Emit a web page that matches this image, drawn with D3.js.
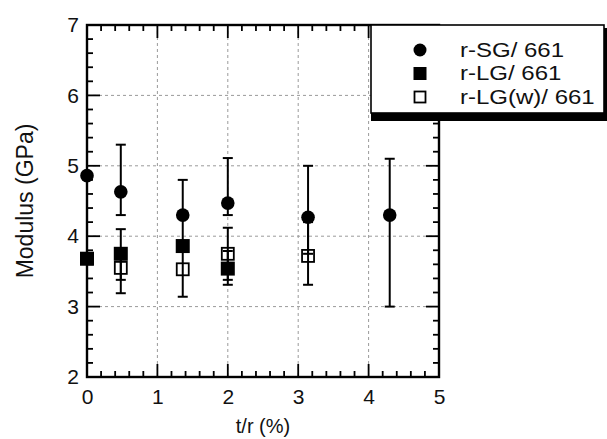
<!DOCTYPE html>
<html>
<head>
<meta charset="utf-8">
<script src="https://cdn.jsdelivr.net/npm/d3@7"></script>
<style>
  body { margin: 0; background: #fff; }
  text { font-family: "Liberation Sans", Arial, sans-serif; fill: #111; }
</style>
</head>
<body>
<div id="chart"></div>
<script>
// data
var sgX  = [0, 0.48, 1.36, 2.0, 3.14, 4.3];
var sgY  = [4.86, 4.63, 4.30, 4.47, 4.27, 4.30];
var sgLo = [null, 4.30, 3.85, 4.30, 3.75, 3.00];
var sgHi = [null, 5.30, 4.80, 5.11, 5.00, 5.10];

var lgX  = [0, 0.48, 1.36, 2.0];
var lgY  = [3.68, 3.75, 3.86, 3.54];
var lgLo = [null, 3.38, null, 3.31];
var lgHi = [null, 4.10, null, 3.79];

var lgwX  = [0.48, 1.36, 2.0, 3.14];
var lgwY  = [3.55, 3.53, 3.75, 3.72];
var lgwLo = [3.19, 3.14, 3.38, 3.31];
var lgwHi = [3.80, 3.92, 4.12, 4.20];

var legendLabels = ["r-SG/ 661", "r-LG/ 661", "r-LG(w)/ 661"];
var xTicks = [0, 1, 2, 3, 4, 5];
var yTicks = [2, 3, 4, 5, 6, 7];

var svgWidth = 607;
var svgHeight = 439;
var margin = { top: 25, right: 168, bottom: 62, left: 87 };
var width = svgWidth - margin.left - margin.right;
var height = svgHeight - margin.top - margin.bottom;

var svg = d3.select("#chart")
  .append("svg")
  .attr("width", svgWidth)
  .attr("height", svgHeight);

var chartGroup = svg.append("g")
  .attr("transform", `translate(${margin.left}, ${margin.top})`);

var xScale = d3.scaleLinear().domain([0, 5]).range([0, width]);
var yScale = d3.scaleLinear().domain([2, 7]).range([height, 0]);

// dashed grid
chartGroup.selectAll(".vgrid")
  .data(xTicks.slice(1, -1))
  .enter().append("line")
  .attr("x1", d => xScale(d)).attr("x2", d => xScale(d))
  .attr("y1", 0).attr("y2", height)
  .attr("stroke", "#9a9a9a").attr("stroke-dasharray", "3,3");

chartGroup.selectAll(".hgrid")
  .data(yTicks.slice(1, -1))
  .enter().append("line")
  .attr("y1", d => yScale(d)).attr("y2", d => yScale(d))
  .attr("x1", 0).attr("x2", width)
  .attr("stroke", "#9a9a9a").attr("stroke-dasharray", "3,3");

// tick labels from the axes
var bottomAxis = d3.axisBottom(xScale).tickValues(xTicks).tickSize(0).tickPadding(12).tickFormat(d3.format("d"));
var leftAxis = d3.axisLeft(yScale).tickValues(yTicks).tickSize(0).tickPadding(8).tickFormat(d3.format("d"));

chartGroup.append("g").attr("transform", `translate(0, ${height})`)
  .call(bottomAxis)
  .call(g => g.select(".domain").remove())
  .selectAll("text").attr("font-size", 21);
chartGroup.append("g")
  .call(leftAxis)
  .call(g => g.select(".domain").remove())
  .selectAll("text").attr("font-size", 21);

// inward ticks on all four sides, minor every 0.2
var minorX = d3.range(0, 5.001, 0.2);
var minorY = d3.range(2, 7.001, 0.2);
var isMajor = v => Math.abs(v - Math.round(v)) < 1e-6;
var tickLen = v => isMajor(v) ? 13 : 6;

var ticks = chartGroup.append("g").attr("stroke", "#000").attr("stroke-width", 1.8);
[0, height].forEach(function(yy) {
  var dir = yy === 0 ? 1 : -1;
  ticks.selectAll(null).data(minorX).enter().append("line")
    .attr("x1", d => xScale(d)).attr("x2", d => xScale(d))
    .attr("y1", yy).attr("y2", d => yy + dir * tickLen(d));
});
[0, width].forEach(function(xx) {
  var dir = xx === 0 ? 1 : -1;
  ticks.selectAll(null).data(minorY).enter().append("line")
    .attr("y1", d => yScale(d)).attr("y2", d => yScale(d))
    .attr("x1", xx).attr("x2", d => xx + dir * tickLen(d));
});

// frame
chartGroup.append("rect")
  .attr("x", 0).attr("y", 0).attr("width", width).attr("height", height)
  .attr("fill", "none").attr("stroke", "#000").attr("stroke-width", 2.4);

// markers
var sg = sgX.map((x, i) => ({ x: x, y: sgY[i], lo: sgLo[i], hi: sgHi[i] }));
var lg = lgX.map((x, i) => ({ x: x, y: lgY[i], lo: lgLo[i], hi: lgHi[i] }));
var lgw = lgwX.map((x, i) => ({ x: x, y: lgwY[i], lo: lgwLo[i], hi: lgwHi[i] }));

chartGroup.selectAll(".sg").data(sg).enter().append("circle")
  .attr("cx", d => xScale(d.x)).attr("cy", d => yScale(d.y))
  .attr("r", 6.8).attr("fill", "#000");

chartGroup.selectAll(".lg").data(lg).enter().append("rect")
  .attr("x", d => xScale(d.x) - 7).attr("y", d => yScale(d.y) - 7)
  .attr("width", 14).attr("height", 14).attr("fill", "#000");

chartGroup.selectAll(".lgw").data(lgw).enter().append("rect")
  .attr("x", d => xScale(d.x) - 6).attr("y", d => yScale(d.y) - 6)
  .attr("width", 12).attr("height", 12)
  .attr("fill", "#fff").attr("stroke", "#000").attr("stroke-width", 1.8);

// error bars on top
var allBars = sg.concat(lg, lgw).filter(d => d.lo != null);
var bars = chartGroup.selectAll(".err").data(allBars).enter().append("g")
  .attr("stroke", "#000").attr("stroke-width", 2);
bars.append("line")
  .attr("x1", d => xScale(d.x)).attr("x2", d => xScale(d.x))
  .attr("y1", d => yScale(d.lo)).attr("y2", d => yScale(d.hi));
bars.append("line")
  .attr("x1", d => xScale(d.x) - 5).attr("x2", d => xScale(d.x) + 5)
  .attr("y1", d => yScale(d.lo)).attr("y2", d => yScale(d.lo));
bars.append("line")
  .attr("x1", d => xScale(d.x) - 5).attr("x2", d => xScale(d.x) + 5)
  .attr("y1", d => yScale(d.hi)).attr("y2", d => yScale(d.hi));

// axis labels
svg.append("text")
  .attr("transform", "translate(33, 201) rotate(-90)")
  .attr("text-anchor", "middle")
  .attr("font-size", 23)
  .text("Modulus (GPa)");

svg.append("text")
  .attr("x", margin.left + xScale(2.5)).attr("y", 433)
  .attr("text-anchor", "middle")
  .attr("font-size", 20)
  .text("t/r (%)");

// legend with drop shadow
var legend = svg.append("g");
legend.append("rect")
  .attr("x", 371).attr("y", 28).attr("width", 236).attr("height", 93)
  .attr("fill", "#000");
legend.append("rect")
  .attr("x", 371).attr("y", 25).attr("width", 233).attr("height", 88)
  .attr("fill", "#fff").attr("stroke", "#000").attr("stroke-width", 1.6);

var rowY = d3.scalePoint().domain(legendLabels).range([50, 97]);

legend.append("circle")
  .attr("cx", 420).attr("cy", rowY(legendLabels[0])).attr("r", 6.5).attr("fill", "#000");
legend.append("rect")
  .attr("x", 413.5).attr("y", rowY(legendLabels[1]) - 6.5).attr("width", 13).attr("height", 13).attr("fill", "#000");
legend.append("rect")
  .attr("x", 414.5).attr("y", rowY(legendLabels[2]) - 5.5).attr("width", 11).attr("height", 11)
  .attr("fill", "#fff").attr("stroke", "#000").attr("stroke-width", 1.8);

legend.selectAll(".ltext").data(legendLabels).enter().append("text")
  .attr("x", 460).attr("y", d => rowY(d) + 6.5)
  .attr("font-size", 20)
  .text(d => d)
  .each(function() {
    var w = this.getComputedTextLength();
    d3.select(this).attr("textLength", w * 1.2).attr("lengthAdjust", "spacingAndGlyphs");
  });
</script>
</body>
</html>
